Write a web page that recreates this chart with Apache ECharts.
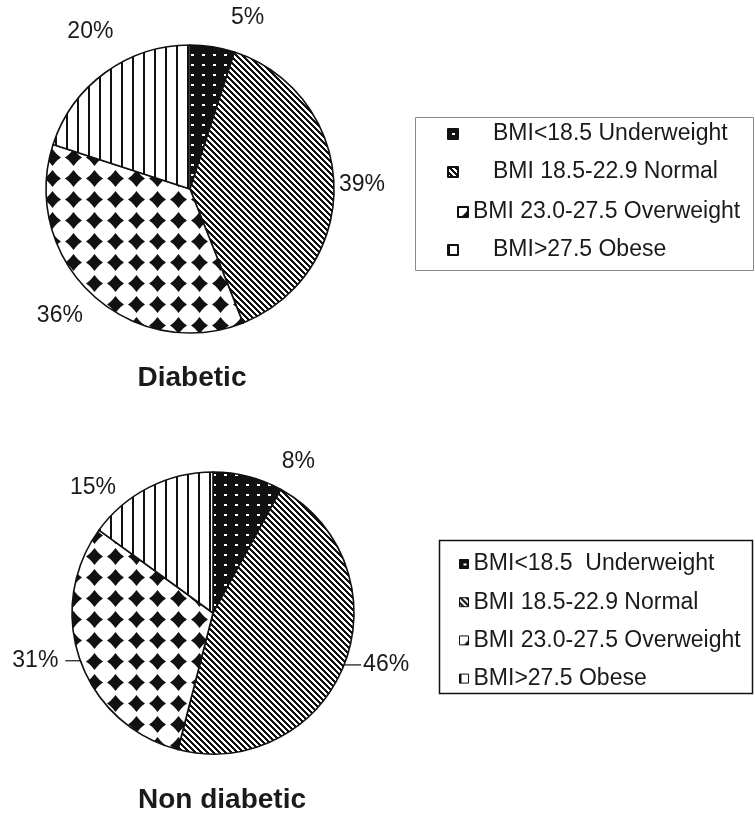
<!DOCTYPE html>
<html><head><meta charset="utf-8">
<script src="https://cdn.jsdelivr.net/npm/echarts@6/dist/echarts.min.js"></script>
<style>html,body{margin:0;padding:0;background:#fff}#c{width:755px;height:817px}</style>
</head><body><div id="c"></div>
<script>
// ---- data ----
const categories = ['BMI<18.5 Underweight', 'BMI 18.5-22.9 Normal', 'BMI 23.0-27.5 Overweight', 'BMI>27.5 Obese'];
const legend2Labels = ['BMI<18.5  Underweight', 'BMI 18.5-22.9 Normal', 'BMI 23.0-27.5 Overweight', 'BMI>27.5 Obese'];
const diabeticValues = [5, 39, 36, 20];
const nonDiabeticValues = [8, 46, 31, 15];
const chartTitles = ['Diabetic', 'Non diabetic'];

// ---- styles ----
const FONT = "'Liberation Sans', Arial, sans-serif";
const INK = '#111';
function makeCanvas(w, h, draw) { const c = document.createElement('canvas'); c.width = w; c.height = h; draw(c.getContext('2d'), w, h); return c; }
const patDots = makeCanvas(11, 10, g => { g.fillStyle = INK; g.fillRect(0, 0, 11, 10); g.fillStyle = '#fff'; g.fillRect(4, 4, 3, 2); });
const patDiag = makeCanvas(6, 6, g => { g.fillStyle = '#fff'; g.fillRect(0, 0, 6, 6); g.fillStyle = INK; for (let y = 0; y < 6; y++) for (let x = 0; x < 6; x++) { if ((((x - y) % 6) + 6) % 6 < 3) g.fillRect(x, y, 1, 1); } });
const patDiamond = makeCanvas(21, 21, g => {
  g.fillStyle = '#fff'; g.fillRect(0, 0, 21, 21); g.fillStyle = INK;
  const cx = 10.5, cy = 10.5;
  const pts = [[0,-8.5],[2.6,-5.2],[5.2,-2.6],[8.5,0],[5.2,2.6],[2.6,5.2],[0,8.5],[-2.6,5.2],[-5.2,2.6],[-8.5,0],[-5.2,-2.6],[-2.6,-5.2]];
  g.beginPath(); pts.forEach((p, i) => i ? g.lineTo(cx + p[0], cy + p[1]) : g.moveTo(cx + p[0], cy + p[1])); g.closePath(); g.fill();
});
const patVert = makeCanvas(11, 11, g => { g.fillStyle = '#fff'; g.fillRect(0, 0, 11, 11); g.fillStyle = INK; g.fillRect(0, 0, 2, 11); });
const patterns = [patDots, patDiag, patDiamond, patVert].map(c => ({ image: c, repeat: 'repeat' }));

// label line [length, length2, distanceToLabelLine]
const topLabelLine = [[29, 0, 14], [1, 0, 4], [30, 0, -12], [51, 0, -38]];
const topLineShow = [false, false, false, false];
const botLabelLine = [[15, 25, 5], [0, 17, 2], [0, 15, 7], [0, 28, 5]];
const botLineShow = [false, true, true, false];

function buildData(values, lens, shows) {
  return values.map((v, i) => ({
    name: categories[i], value: v,
    itemStyle: { color: patterns[i] },
    label: { distanceToLabelLine: lens[i][2] },
    labelLine: { show: shows[i], length: lens[i][0], length2: lens[i][1] }
  }));
}
function pie(center, radius, data) {
  return {
    type: 'pie', center: center, radius: radius, startAngle: 90, clockwise: true,
    avoidLabelOverlap: false, silent: true, animation: false,
    itemStyle: { borderColor: INK, borderWidth: 1.6 },
    label: { show: true, position: 'outside', formatter: '{c}%', fontSize: 23, color: '#1a1a1a', fontFamily: FONT },
    labelLine: { lineStyle: { color: INK, width: 1.2 } },
    emphasis: { disabled: true },
    data: data
  };
}

// legend 1 rows (each row its own legend to follow the reference's uneven placement)
const leg1RowCenters = [134, 172, 212, 250];
const leg1Left = [447, 447, 457, 447];
const leg1Pad = [30, 30, 0, 30];
const legends = categories.map((name, i) => ({
  orient: 'vertical', left: leg1Left[i], top: leg1RowCenters[i] - 11.5, padding: 0,
  itemWidth: 10, itemHeight: 10, icon: 'rect', selectedMode: false,
  data: [name],
  textStyle: { fontSize: 23, color: '#1a1a1a', fontFamily: FONT, padding: [0, 0, 0, leg1Pad[i]] }
}));
legends.push({
  orient: 'vertical', left: 459, top: 552.5, padding: 0, itemGap: 15.2,
  itemWidth: 9, itemHeight: 9, icon: 'rect', selectedMode: false,
  data: categories.slice(),
  itemStyle: { borderColor: INK, borderWidth: 1 },
  formatter: n => legend2Labels[categories.indexOf(n)],
  textStyle: { fontSize: 23, color: '#1a1a1a', fontFamily: FONT }
});

const chart = echarts.init(document.getElementById('c'));
chart.setOption({
  backgroundColor: '#fff',
  animation: false,
  legend: legends,
  graphic: [
    { type: 'rect', shape: { x: 415.5, y: 117.5, width: 338, height: 153 }, style: { fill: 'none', stroke: '#8a8a8a', lineWidth: 1 }, silent: true },
    { type: 'rect', shape: { x: 439.5, y: 540.5, width: 313, height: 153 }, style: { fill: 'none', stroke: INK, lineWidth: 1.5 }, silent: true },
    { type: 'text', x: 192, y: 378, style: { text: chartTitles[0], fontSize: 28, fontWeight: 'bold', fontFamily: FONT, fill: '#1a1a1a', align: 'center', verticalAlign: 'middle' }, silent: true },
    { type: 'text', x: 222, y: 800, style: { text: chartTitles[1], fontSize: 28, fontWeight: 'bold', fontFamily: FONT, fill: '#1a1a1a', align: 'center', verticalAlign: 'middle' }, silent: true }
  ],
  series: [
    pie([190, 189], 144, buildData(diabeticValues, topLabelLine, topLineShow)),
    pie([213, 613], 141, buildData(nonDiabeticValues, botLabelLine, botLineShow))
  ]
});
</script></body></html>
